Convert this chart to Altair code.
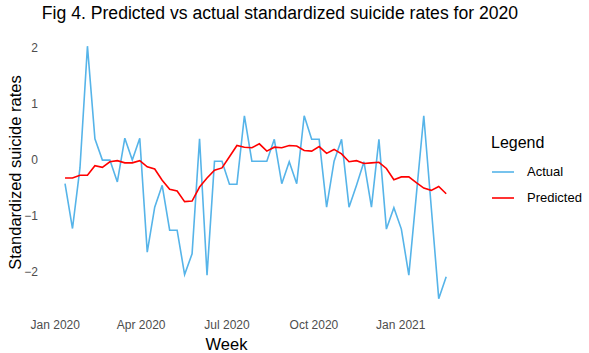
import altair as alt
import pandas as pd

# Weekly observations (52 weeks)
actual = [-0.43, -1.23, -0.15, 2.02, 0.37, -0.01, -0.01, -0.40, 0.38, -0.01,
          0.38, -1.65, -0.85, -0.46, -1.26, -1.26, -2.05, -1.68, 0.37, -2.06,
          -0.03, -0.03, -0.44, -0.44, 0.78, -0.03, -0.03, -0.03, 0.36, -0.43,
          -0.04, -0.43, 0.78, 0.36, 0.36, -0.85, -0.03, 0.36, -0.85, -0.46,
          -0.04, -0.85, 0.36, -1.24, -0.86, -1.24, -2.06, -0.64, 0.78, -0.85,
          -2.48, -2.09]
predicted = [-0.33, -0.33, -0.28, -0.28, -0.11, -0.14, -0.04, -0.02, -0.06, -0.06,
             -0.02, -0.13, -0.17, -0.37, -0.53, -0.56, -0.75, -0.74, -0.49, -0.33,
             -0.19, -0.15, 0.05, 0.25, 0.22, 0.21, 0.28, 0.15, 0.22, 0.21,
             0.25, 0.24, 0.16, 0.15, 0.23, 0.11, 0.18, 0.10, -0.04, -0.02,
             -0.07, -0.06, -0.05, -0.16, -0.36, -0.31, -0.31, -0.41, -0.51, -0.55,
             -0.48, -0.61]
weeks = [d.strftime("%Y-%m-%dT%H:%M:%S")
         for d in pd.date_range("2020-01-11 22:00", periods=len(actual), freq="190h")]
series_names = ["Actual", "Predicted"]
series_colors = ["#56B4E9", "#FF0000"]
y_ticks = [-2, -1, 0, 1, 2]

rows = []
for name, vals in zip(series_names, [actual, predicted]):
    for i, (w, v) in enumerate(zip(weeks, vals)):
        rows.append({"Week": w, "value": v, "series": name, "idx": i})
df = pd.DataFrame(rows)

x_ticks = [alt.DateTime(year=2020, month=1, date=1),
           alt.DateTime(year=2020, month=4, date=1),
           alt.DateTime(year=2020, month=7, date=1),
           alt.DateTime(year=2020, month=10, date=1),
           alt.DateTime(year=2021, month=1, date=1)]

chart = alt.Chart(df).mark_line(strokeWidth=1.6).encode(
    x=alt.X("Week:T",
            scale=alt.Scale(domain=[alt.DateTime(year=2019, month=12, date=21, hours=17),
                                    alt.DateTime(year=2021, month=3, date=10, hours=14)],
                            nice=False),
            axis=alt.Axis(values=x_ticks, format="%b %Y", title="Week",
                          ticks=False, grid=False, domain=False,
                          labelFontSize=12, labelColor="#4D4D4D", labelPadding=8,
                          labelFont="Liberation Sans", labelAlign="center",
                          titleFont="Liberation Sans", titleFontSize=16.5,
                          titleFontWeight="normal", titleColor="black",
                          titleX=181, titleY=25, titleBaseline="top", titleAlign="center",
                          labelFlush=False, labelOverlap=False, labelBound=False)),
    y=alt.Y("value:Q",
            scale=alt.Scale(domain=[-2.70, 2.255], nice=False, zero=False),
            axis=alt.Axis(values=y_ticks, title="Standardized suicide rates",
                          ticks=False, grid=False, domain=False,
                          labelFontSize=12, labelColor="#4D4D4D", labelPadding=7.5,
                          labelFont="Liberation Sans",
                          titleFont="Liberation Sans", titleFontSize=16.5,
                          titleFontWeight="normal", titleColor="black",
                          titleX=-25, titleY=139, titleAngle=-90,
                          titleBaseline="alphabetic", titleAlign="center")),
    color=alt.Color("series:N",
                    scale=alt.Scale(domain=series_names, range=series_colors),
                    legend=alt.Legend(title="Legend", orient="none", legendX=446, legendY=102,
                                      symbolType="stroke", symbolSize=484,
                                      symbolStrokeWidth=1.6, labelOffset=12,
                                      rowPadding=7, titlePadding=9, padding=0,
                                      labelFontSize=13, labelColor="black",
                                      labelFont="Liberation Sans",
                                      titleFont="Liberation Sans", titleFontSize=16,
                                      titleFontWeight="normal", titleColor="black")),
    order=alt.Order("idx:Q"),
).properties(
    width=420,
    height=278,
    background="white",
    title=alt.TitleParams("Fig 4. Predicted vs actual standardized suicide rates for 2020",
                          font="Liberation Sans", fontSize=17.6, fontWeight="normal",
                          color="black", anchor="middle", frame="group", dx=25, dy=15.7,
                          baseline="alphabetic", offset=12.3),
    autosize=alt.AutoSizeParams(type="none"),
    padding={"left": 45, "top": 33, "right": 124, "bottom": 42},
).configure_view(strokeWidth=0)

chart.save("out.html", embed_options={"renderer": "svg", "actions": False})
